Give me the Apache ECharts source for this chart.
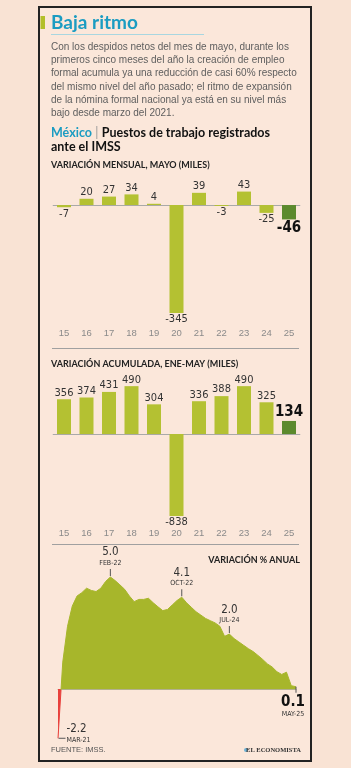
<!DOCTYPE html>
<html>
<head>
<meta charset="utf-8">
<script src="https://cdn.jsdelivr.net/npm/echarts@6/dist/echarts.min.js"></script>
<style>
html,body{margin:0;padding:0;background:#f9e3d4;}
#main{width:351px;height:768px;}
</style>
</head>
<body>
<div id="main"></div>
<script>
//categorias: años (mes de mayo)
var anios = ['15','16','17','18','19','20','21','22','23','24','25'];
//variacion mensual, mayo (miles)
var mensual = [-7, 20, 27, 34, 4, -345, 39, -3, 43, -25, -46];
//variacion acumulada, ene-may (miles)
var acumulada = [356, 374, 431, 490, 304, -838, 336, 388, 490, 325, 134];
//variacion % anual, mar-21 a may-25
var anual = [-2.2, 1.2, 2.8, 3.7, 4.15, 4.3, 4.5, 4.4, 4.35, 4.5,
             4.8, 5.0, 4.84, 4.65, 4.45, 4.15, 3.9, 4.0, 4.0, 4.05,
             3.85, 3.67, 3.5, 3.55, 3.75, 3.95, 4.1, 3.85, 3.65, 3.45,
             3.3, 3.15, 3.05, 2.95, 2.8, 2.35, 2.45, 2.25, 2.1, 1.95,
             1.8, 1.67, 1.5, 1.32, 1.12, 0.98, 0.77, 0.65, 0.75, 0.15, 0.1];
//anotaciones del area
var notaIdx = [0, 11, 26, 36, 50];
var notaVal = ['-2.2', '5.0', '4.1', '2.0', '0.1'];
var notaFecha = ['MAR-21', 'FEB-22', 'OCT-22', 'JUL-24', 'MAY-25'];

var verde = '#b4c132', verdeOsc = '#5c8a2d', area = '#a7b62b', rojo = '#e8413c';
var fNum = "'Liberation Sans Narrow','DejaVu Sans Condensed',sans-serif";
var fTxt = "'Liberation Sans',Arial,sans-serif";
var fTit = "Lato,'Noto Sans',sans-serif";

//barras con etiqueta arriba/abajo segun signo
function barras(vals){
    return vals.map(function(v, i){
        var ult = i === vals.length - 1;
        return {
            value: v,
            itemStyle: {color: ult ? verdeOsc : verde},
            label: {
                position: v < 0 ? 'bottom' : 'top',
                fontSize: ult ? 15 : 11,
                fontWeight: ult ? 'bold' : 'normal',
                color: ult ? '#111' : '#333'
            }
        };
    });
}

function serieBarras(vals, idx){
    return {
        type: 'bar',
        xAxisIndex: idx, yAxisIndex: idx,
        data: barras(vals),
        barWidth: 14,
        label: {show: true, distance: 1, fontFamily: fNum},
        markLine: {
            silent: true, symbol: 'none', z: 1,
            label: {show: false},
            lineStyle: {color: '#a9a9a9', width: 1, type: 'solid'},
            data: [{yAxis: 0}]
        }
    };
}

//corte de color en el cero (rojo abajo, verde arriba)
var vMax = Math.max.apply(null, anual), vMin = Math.min.apply(null, anual);
var corte = vMax / (vMax - vMin);
var degradado = new echarts.graphic.LinearGradient(0, 0, 0, 1, [
    {offset: 0, color: area}, {offset: corte, color: area},
    {offset: corte, color: rojo}, {offset: 1, color: rojo}
]);

//marcas del area
var notas = notaIdx.map(function(ix, k){
    var base = {
        coord: [ix, anual[ix]],
        symbol: 'rect',
        itemStyle: {color: '#555'},
        label: {show: true, fontFamily: fNum, color: '#333',
            rich: {
                v: {fontSize: 11.5, lineHeight: 13, fontFamily: fNum, color: '#333'},
                b: {fontSize: 15, lineHeight: 15, fontWeight: 'bold', fontFamily: fNum, color: '#111'},
                d: {fontSize: 7, lineHeight: 9, fontFamily: fNum, color: '#333'}
            }
        }
    };
    if (k === 0) {
        base.symbolSize = [7, 1];
        base.symbolOffset = [4, 0];
        base.label.position = 'right';
        base.label.distance = 1;
        base.label.offset = [0, -5];
        base.label.align = 'left';
        base.label.formatter = '{v|' + notaVal[k] + '}\n{d|' + notaFecha[k] + '}';
    } else if (k === notaIdx.length - 1) {
        base.symbolSize = [1, 6];
        base.symbolOffset = [0, 3];
        base.label.position = 'bottom';
        base.label.distance = 2;
        base.label.offset = [-3, 0];
        base.label.formatter = '{b|' + notaVal[k] + '}\n{d|' + notaFecha[k] + '}';
    } else {
        base.symbolSize = [1, 7];
        base.symbolOffset = [0, -4.5];
        base.label.position = 'top';
        base.label.distance = 1;
        base.label.formatter = '{v|' + notaVal[k] + '}\n{d|' + notaFecha[k] + '}';
    }
    return base;
});

var parrafo = [
    'Con los despidos netos del mes de mayo, durante los',
    'primeros cinco meses del año la creación de empleo',
    'formal acumula ya una reducción de casi 60% respecto',
    'del mismo nivel del año pasado; el ritmo de expansión',
    'de la nómina formal nacional ya está en su nivel más',
    'bajo desde marzo del 2021.'
];

var graficos = [
    {type: 'rect', z: -10, shape: {x: 39, y: 7, width: 272, height: 754},
     style: {fill: '#fbe7da', stroke: '#222', lineWidth: 2}},
    {type: 'rect', shape: {x: 40.5, y: 16, width: 4.5, height: 13}, style: {fill: '#b3bf2a'}},
    {type: 'text', x: 51, y: 23, style: {text: 'Baja ritmo', font: 'bold 19px ' + fTit, fill: '#1b9cc2', verticalAlign: 'middle'}},
    {type: 'line', shape: {x1: 51, y1: 34.5, x2: 204, y2: 34.5}, style: {stroke: '#a8d6e0', lineWidth: 1}},
    {type: 'text', x: 51, y: 133, style: {
        text: '{m|México} {s||} {t|Puestos de trabajo registrados}',
        verticalAlign: 'middle',
        rich: {
            m: {font: 'bold 12.5px ' + fTit, fill: '#1b9cc2'},
            s: {font: '12.5px ' + fTit, fill: '#999'},
            t: {font: 'bold 12.5px ' + fTit, fill: '#111'}
        }}},
    {type: 'text', x: 51, y: 146.5, style: {text: 'ante el IMSS', font: 'bold 12.5px ' + fTit, fill: '#111', verticalAlign: 'middle'}},
    {type: 'text', x: 51, y: 165, style: {text: 'VARIACIÓN MENSUAL, MAYO (MILES)', font: 'bold 9px ' + fTit, fill: '#222', verticalAlign: 'middle'}},
    {type: 'line', shape: {x1: 52, y1: 348.5, x2: 299, y2: 348.5}, style: {stroke: '#a0a0a0', lineWidth: 1}},
    {type: 'text', x: 51, y: 364, style: {text: 'VARIACIÓN ACUMULADA, ENE-MAY (MILES)', font: 'bold 9px ' + fTit, fill: '#222', verticalAlign: 'middle'}},
    {type: 'line', shape: {x1: 52, y1: 544.5, x2: 299, y2: 544.5}, style: {stroke: '#a0a0a0', lineWidth: 1}},
    {type: 'text', x: 300, y: 560, style: {text: 'VARIACIÓN % ANUAL', font: 'bold 9px ' + fTit, fill: '#222', align: 'right', verticalAlign: 'middle'}},
    {type: 'text', x: 51, y: 750, style: {text: 'FUENTE: IMSS.', font: '7.5px ' + fTxt, fill: '#555', verticalAlign: 'middle'}},
    {type: 'circle', shape: {cx: 246, cy: 750, r: 2}, style: {fill: '#6fb3d6'}},
    {type: 'text', x: 301, y: 750, style: {text: 'EL ECONOMISTA', font: 'bold 6.5px "Liberation Serif",serif', fill: '#333', align: 'right', verticalAlign: 'middle'}}
];
parrafo.forEach(function(l, i){
    graficos.push({type: 'text', x: 51, y: 47.5 + i * 13.1,
        style: {text: l, font: '10px ' + fTxt, fill: '#5e5e5e', verticalAlign: 'middle'}});
});

var ejeCat = {
    type: 'category', data: anios, position: 'bottom',
    axisLine: {show: false, onZero: false}, axisTick: {show: false},
    axisLabel: {color: '#8a8a8a', fontSize: 9.5, fontFamily: fTxt}
};

var chart = echarts.init(document.getElementById('main'));
var option = {
    animation: false,
    backgroundColor: '#f9e3d4',
    graphic: graficos,
    grid: [
        {left: 52.75, width: 247.5, top: 180, height: 133},
        {left: 52.75, width: 247.5, top: 375.4, height: 140.6},
        {left: 58, width: 238, top: 565.8, height: 174.7}
    ],
    xAxis: [
        echarts.util.merge({gridIndex: 0, axisLabel: {margin: 15}}, ejeCat, true),
        echarts.util.merge({gridIndex: 1, axisLabel: {margin: 12}}, ejeCat, true),
        {gridIndex: 2, type: 'category', boundaryGap: false,
         data: anual.map(function(v, i){ return i; }),
         axisLine: {show: true, onZero: true, lineStyle: {color: '#b2b08e', width: 1}},
         axisTick: {show: false}, axisLabel: {show: false}}
    ],
    yAxis: [
        {gridIndex: 0, type: 'value', min: -345, max: 80, show: false},
        {gridIndex: 1, type: 'value', min: -838, max: 600, show: false},
        {gridIndex: 2, type: 'value', min: -2.3, max: 5.5, show: false}
    ],
    series: [
        serieBarras(mensual, 0),
        serieBarras(acumulada, 1),
        {
            type: 'line', xAxisIndex: 2, yAxisIndex: 2,
            data: anual, symbol: 'none', smooth: false,
            lineStyle: {width: 1, color: degradado},
            areaStyle: {opacity: 1, color: degradado},
            markPoint: {silent: true, data: notas}
        }
    ]
};
chart.setOption(option);
</script>
</body>
</html>
